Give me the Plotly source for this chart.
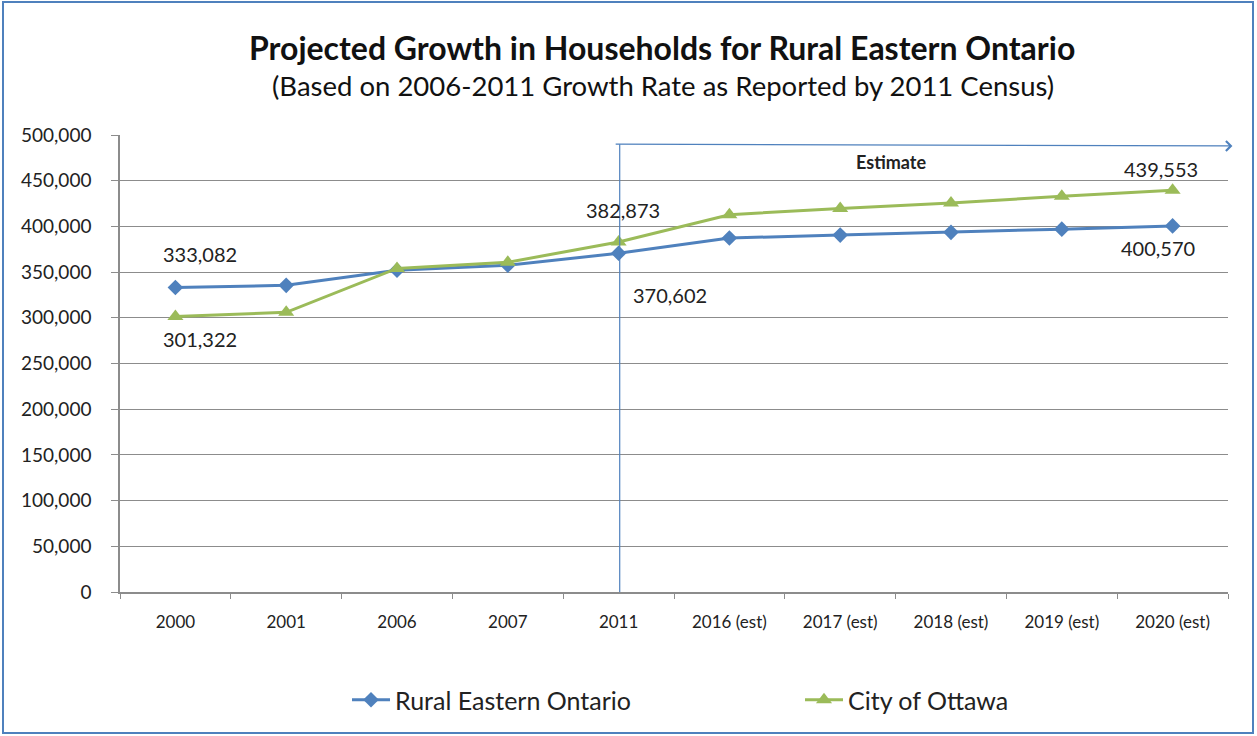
import plotly.graph_objects as go

categories = ["2000", "2001", "2006", "2007", "2011",
              "2016 (est)", "2017 (est)", "2018 (est)", "2019 (est)", "2020 (est)"]
rural = [333082, 335500, 352000, 357500, 370602, 387300, 390500, 393500, 397000, 400570]
ottawa = [301322, 306000, 354000, 360800, 382873, 412800, 419700, 425600, 432900, 439553]

BLUE = "#4F81BD"
GREEN = "#9BBB59"
GRID = "#8C8C8C"
FONT = "Lato"

fig = go.Figure()
fig.add_trace(go.Scatter(
    x=categories, y=rural, name="Rural Eastern Ontario", mode="lines+markers",
    line=dict(color=BLUE, width=3),
    marker=dict(symbol="diamond", size=12, color=BLUE),
))
fig.add_trace(go.Scatter(
    x=categories, y=ottawa, name="City of Ottawa", mode="lines+markers",
    line=dict(color=GREEN, width=3),
    marker=dict(symbol="triangle-up", size=14, color=GREEN),
))

# data labels (category index, series, pixel offsets)
labels = [
    (0, rural, 25, 34),
    (0, ottawa, 25, -22),
    (4, ottawa, 4, 32),
    (4, rural, 51, -42),
    (9, ottawa, -12, 21),
    (9, rural, -15, -22),
]
for i, series, dx, dy in labels:
    v = series[i]
    fig.add_annotation(x=i, y=v, xref="x", yref="y", text=f"{v:,}", showarrow=False,
                       xshift=dx, yshift=dy, font=dict(family=FONT, size=20, color="#222"))

# Estimate marker
fig.add_shape(type="line", xref="x", yref="y", x0=4.01, x1=4.01, y0=0, y1=490000,
              line=dict(color=BLUE, width=1.2))
fig.add_annotation(x=9.54, y=488000, ax=3.96, ay=490000, xref="x", yref="y",
                   axref="x", ayref="y", text="", showarrow=True,
                   arrowhead=4, arrowsize=1.6, arrowwidth=1.2, arrowcolor=BLUE)
fig.add_annotation(x=6.46, y=471000, xref="x", yref="y", text="<b>Estimate</b>",
                   showarrow=False, font=dict(family=FONT, size=18, color="#222"))

# titles
fig.add_annotation(xref="paper", yref="paper", x=(662 - 120) / 1108, y=(592 - 47) / 457,
                   xanchor="center", yanchor="middle",
                   text="<b>Projected Growth in Households for Rural Eastern Ontario</b>",
                   showarrow=False, font=dict(family=FONT, size=32, color="#111"))
fig.add_annotation(xref="paper", yref="paper", x=(663 - 120) / 1108, y=(592 - 85) / 457,
                   xanchor="center", yanchor="middle",
                   text="(Based on 2006-2011 Growth Rate as Reported by 2011 Census)",
                   showarrow=False, font=dict(family=FONT, size=27.5, color="#111"))

# chart border
fig.add_shape(type="rect", xref="paper", yref="paper",
              x0=(3 - 120) / 1108, x1=(1253 - 120) / 1108,
              y0=(592 - 733) / 457, y1=(592 - 2) / 457,
              line=dict(color=BLUE, width=2))

fig.update_layout(
    width=1257, height=736,
    margin=dict(l=120, r=29, t=135, b=144, autoexpand=False),
    paper_bgcolor="white", plot_bgcolor="white",
    font=dict(family=FONT, color="#222"),
    showlegend=True,
    legend=dict(orientation="h", x=(347 - 120) / 1108, y=(592 - 700) / 457,
                xanchor="left", yanchor="middle", bgcolor="rgba(0,0,0,0)",
                font=dict(family=FONT, size=25, color="#222"),
                entrywidth=400, entrywidthmode="pixels", itemwidth=38),
    xaxis=dict(type="category", range=[-0.5, 9.5], showgrid=False, automargin=False,
               showline=True, linecolor=GRID, linewidth=1.5,
               ticks="outside", ticklen=5, tickcolor=GRID, tickson="boundaries",
               tickfont=dict(family=FONT, size=17, color="#222"),
               ticklabelstandoff=14, fixedrange=True),
    yaxis=dict(range=[0, 500000], tickvals=list(range(0, 500001, 50000)),
               tickformat=",d", showgrid=True, gridcolor=GRID, gridwidth=1.2,
               showline=True, linecolor=GRID, linewidth=1.5, automargin=False,
               ticks="outside", ticklen=7, tickcolor=GRID, zeroline=False,
               ticklabelstandoff=16,
               tickfont=dict(family=FONT, size=19, color="#222"), fixedrange=True),
)

fig.write_html("out.html", config={"displayModeBar": False},
               post_script="document.body.style.margin='0';")
